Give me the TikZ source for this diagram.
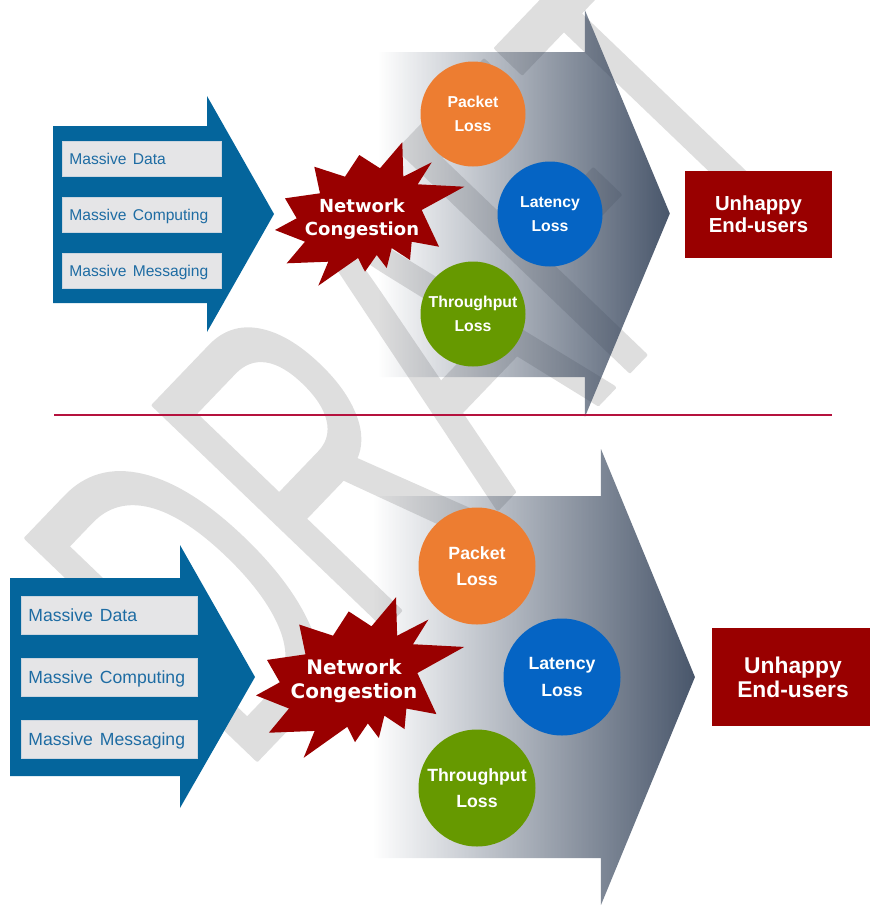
\documentclass[tikz,border=0pt]{standalone}
\usepackage{fontspec}
\setmainfont{Liberation Sans}
\newfontfamily\starfont{DejaVu Sans}
\newfontfamily\wmfont{Liberation Sans}
\usetikzlibrary{fadings}
\definecolor{arrowblue}{HTML}{04659C}
\definecolor{boxgray}{HTML}{E5E5E7}
\definecolor{boxline}{HTML}{CBD5DF}
\definecolor{txtblue}{HTML}{1E6CA3}
\definecolor{darkred}{HTML}{990000}
\definecolor{slate}{HTML}{34435A}
\definecolor{porange}{HTML}{ED7D31}
\definecolor{lblue}{HTML}{0564C4}
\definecolor{tgreen}{HTML}{669900}
\definecolor{divred}{HTML}{B5123E}
\definecolor{wmgray}{HTML}{DEDEDE}
\tikzfading[name=grfade, left color=transparent!100, right color=transparent!10]
\newcommand\ws{\hspace{0.4em}}
\begin{document}
\begin{tikzpicture}[x=1pt,y=-1pt,
  wm/.style={text=wmgray, inner sep=0pt, outer sep=0pt, font=\wmfont\fontsize{255}{255}\selectfont},
  tbox/.style={fill=boxgray, draw=boxline, line width=0.8pt, anchor=north west, inner xsep=7pt, inner ysep=0pt, align=left, text=txtblue, text depth=0pt},
  tboxA/.style={tbox, text width=145pt, minimum height=35pt, text height=11.2pt, font=\fontsize{15.6}{18}\selectfont},
  tboxB/.style={tbox, text width=162pt, minimum height=38pt, text height=12.6pt, font=\fontsize{17.6}{20}\selectfont},
  startext/.style={text=white, align=center, inner sep=0pt},
  circ/.style={circle, inner sep=0pt, text=white, align=center},
  circA/.style={circ, minimum size=105pt, font=\bfseries\fontsize{15.8}{24.5}\selectfont},
  circB/.style={circ, minimum size=117pt, font=\bfseries\fontsize{17.7}{26.5}\selectfont},
  rbox/.style={fill=darkred, text=white, align=center, inner sep=0pt},
  burst/.pic={\fill[darkred] (32.3,-71.7) -- (33.3,-37.3) -- (61.7,-51.7) -- (47.7,-29.7) -- (94.3,-27.3) -- (51.7,-4) -- (69,32.7) -- (41.7,27.7) -- (40,46) -- (21.7,34) -- (16.7,54) -- (6.7,41) -- (-5,57.7) -- (-12,44) -- (-51.7,71.7) -- (-41.7,47.7) -- (-83.3,49.3) -- (-65,27.7) -- (-95,16) -- (-73.3,4.3) -- (-85,-15.7) -- (-50,-20.7) -- (-55.7,-47.3) -- (-25,-37.3) -- (-10.7,-59) -- (10,-45.7) -- cycle;}
]
\useasboundingbox (0,0) rectangle (870,908);

% watermark
\begin{scope}
\node[wm, anchor=base west, rotate=46.2, yscale=1.82] (wmk) at (242,775) {\special{pdf:literal direct 2 Tr 1 j 2.5 w}DRAFT\special{pdf:literal direct 0 Tr}};
\end{scope}

% ---------- top panel ----------
\fill[arrowblue] (53,126) -- (207,126) -- (207,96) -- (274,214) -- (207,332) -- (207,303) -- (53,303) -- cycle;
\node[tboxA] (mdA) at (62,141) {Massive\ws Data};
\node[tboxA] (mcA) at (62,197) {Massive\ws Computing};
\node[tboxA] (mmA) at (62,252.5) {Massive\ws Messaging};

\fill[slate, path fading=grfade] (378,52) -- (585,52) -- (585,10) -- (670,213.5) -- (585,417) -- (585,377) -- (378,377) -- cycle;

\pic (starA) at (370,214) {burst};
\node[startext, font=\starfont\bfseries\fontsize{18}{23}\selectfont] (ncA) at (362,218.8) {Network\\Congestion};

\node[circA, fill=porange] (plA) at (473,114) {Packet\\Loss};
\node[circA, fill=lblue] (llA) at (550,214) {Latency\\Loss};
\node[circA, fill=tgreen] (tlA) at (473,314) {Throughput\\Loss};

\node[rbox, minimum width=147pt, minimum height=87pt, font=\bfseries\fontsize{20.3}{21.6}\selectfont] (ueA) at (758.5,214.5) {Unhappy\\End-users};

% divider
\coordinate (dl) at (54,415);
\coordinate (dr) at (832,415);
\draw[divred, line width=1.8pt] (dl) -- (dr);

% ---------- bottom panel ----------
\fill[arrowblue] (10,578) -- (180,578) -- (180,545) -- (255,677) -- (180,808) -- (180,776) -- (10,776) -- cycle;
\node[tboxB] (mdB) at (21,596) {Massive\ws Data};
\node[tboxB] (mcB) at (21,657.5) {Massive\ws Computing};
\node[tboxB] (mmB) at (21,719.5) {Massive\ws Messaging};

\fill[slate, path fading=grfade] (373,496) -- (601,496) -- (601,449) -- (695,677) -- (601,905) -- (601,858) -- (373,858) -- cycle;

\pic[xscale=1.1, yscale=1.12] (starB) at (360.5,677.5) {burst};
\node[startext, font=\starfont\bfseries\fontsize{20}{24.3}\selectfont] (ncB) at (354,680.9) {Network\\Congestion};

\node[circB, fill=porange] (plB) at (477,566) {Packet\\Loss};
\node[circB, fill=lblue] (llB) at (562,677) {Latency\\Loss};
\node[circB, fill=tgreen] (tlB) at (477,788) {Throughput\\Loss};

\node[rbox, minimum width=162pt, minimum height=98pt, font=\bfseries\fontsize{22.8}{24}\selectfont] (ueB) at (793,677) {Unhappy\\End-users};
\end{tikzpicture}
\end{document}
